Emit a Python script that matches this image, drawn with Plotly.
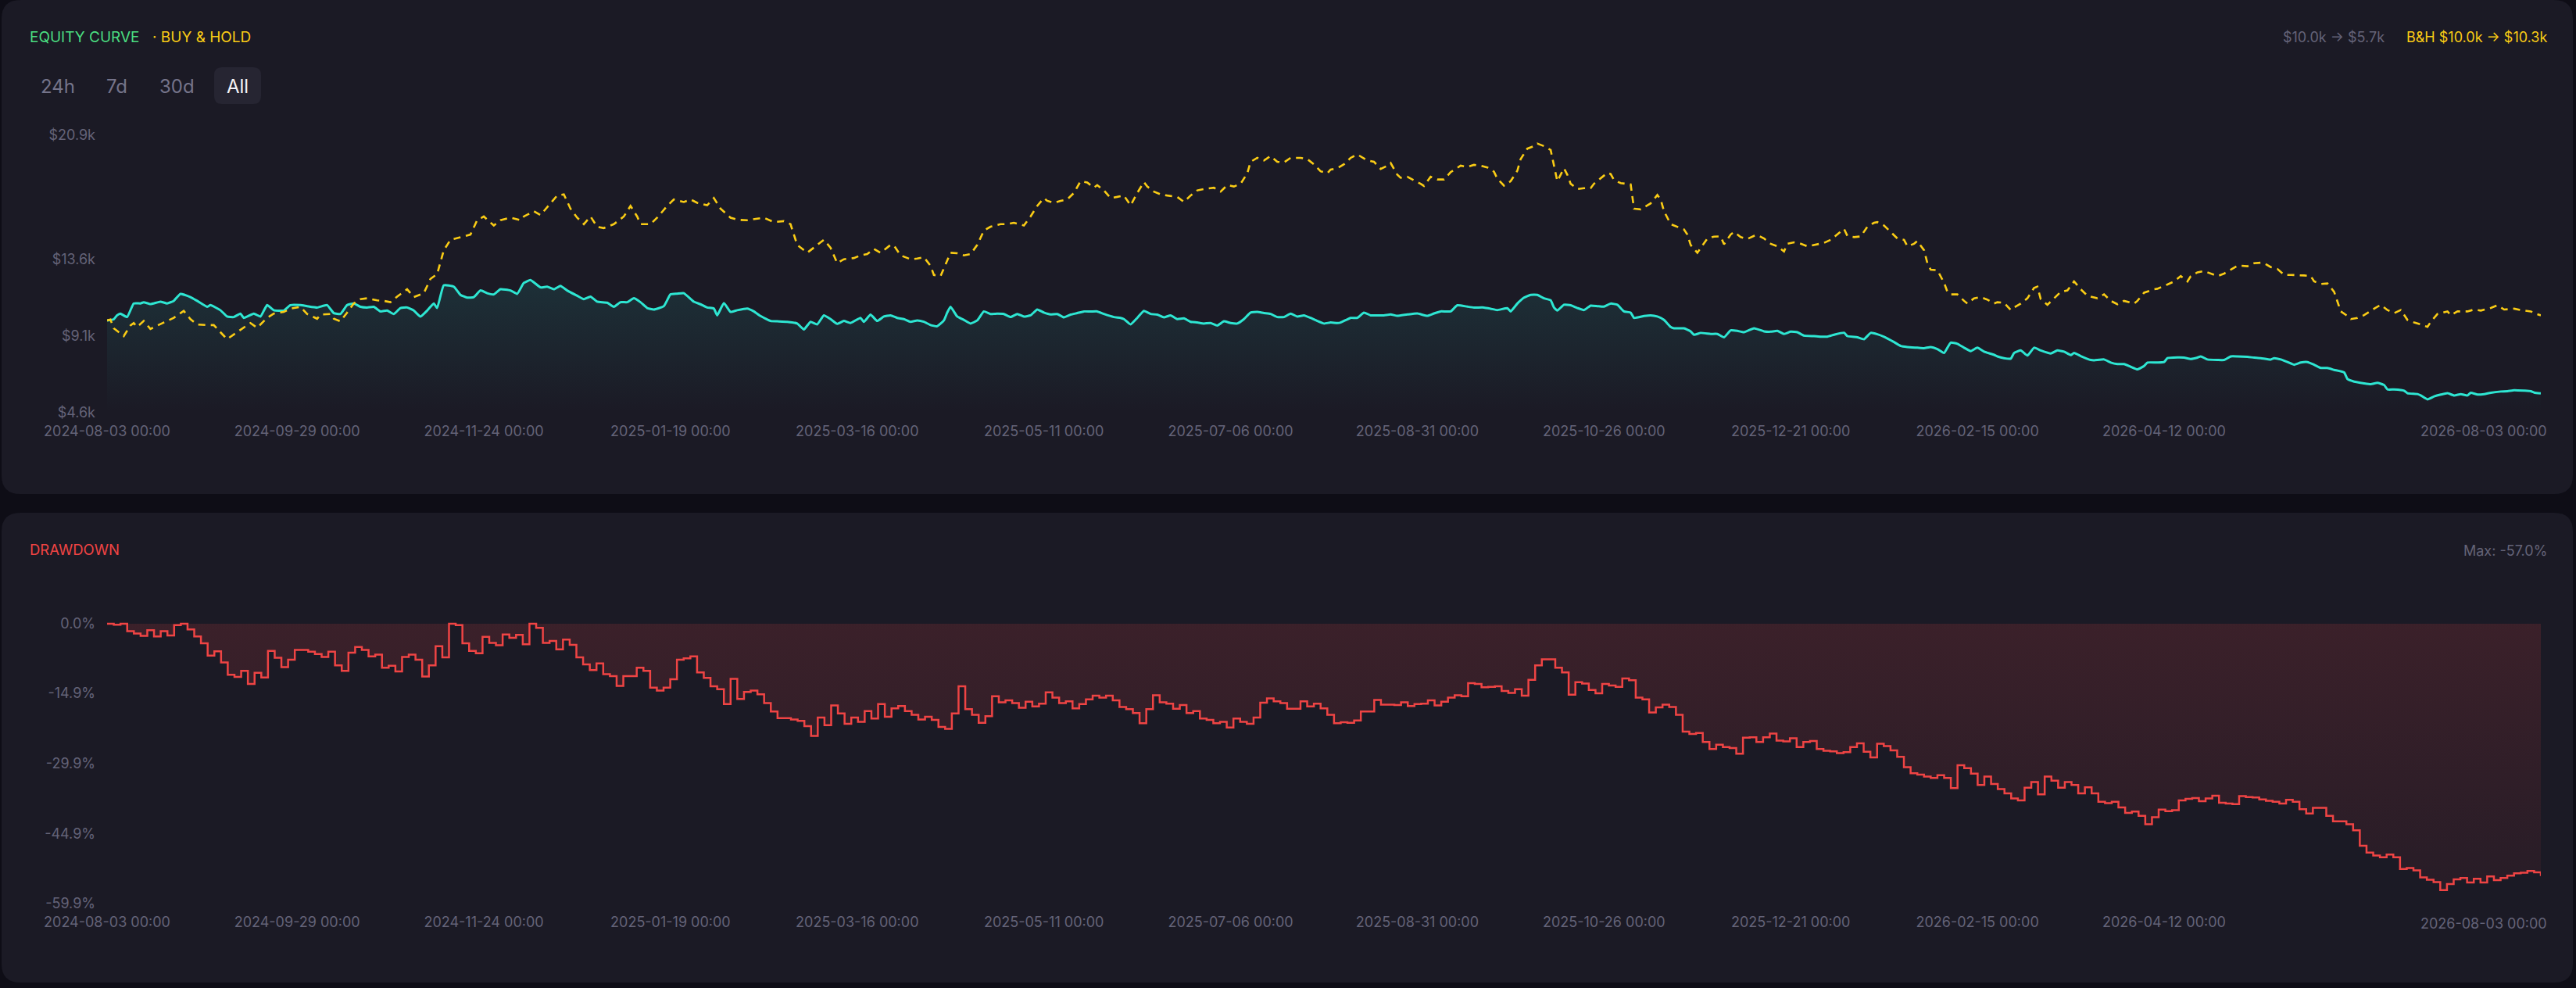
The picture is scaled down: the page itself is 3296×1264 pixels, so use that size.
import pandas as pd
import plotly.graph_objects as go

# ---------------- data ----------------
START = "2024-08-03"
END = "2026-08-03"

EQ_DAYS = [0, 2, 3, 4, 6, 8, 10, 11, 13, 16, 18, 20, 22, 25, 27, 30, 31, 34, 36, 38, 40, 41, 44, 46, 48, 50, 53, 55,
           58, 60, 63, 66, 68, 70, 72, 74, 76, 78, 80, 82, 84, 86, 88, 90, 92, 94, 96, 98, 99, 101, 104, 106, 108, 110,
           112, 114, 116, 118, 121, 123, 125, 127, 130, 132, 134, 136, 138, 141, 143, 145, 147, 150, 152, 154, 156,
           158, 160, 162, 164, 167, 169, 171, 173, 176, 178, 180, 182, 183, 185, 187, 189, 192, 194, 196, 199, 201,
           204, 207, 209, 211, 213, 215, 217, 219, 221, 223, 226,
           227, 229, 231, 233, 235, 237, 239, 241, 243, 245, 247, 249, 251, 252, 253, 255, 257, 259, 261, 263, 265,
           267, 269, 271, 273, 275, 277, 279, 281, 283, 285, 287, 289, 291, 293, 295, 297, 299, 302, 304, 305, 307,
           309, 311, 313, 315, 317, 319, 321, 323, 325, 327, 329, 331, 333, 335, 337, 339, 341, 343, 345, 347, 349,
           351, 353, 355, 357, 359, 361, 363, 365, 367, 369, 370, 373, 375, 377, 379, 381, 383, 385, 387, 390,
           393, 396, 398, 400, 403, 405, 408, 410, 413, 415, 417, 420, 421, 423, 425, 427, 429, 431, 433, 434, 435,
           437, 439, 441, 443, 445, 447, 449, 451, 453, 455, 457, 458, 461, 463, 465, 467, 469, 470, 473, 475, 476,
           478, 481, 483, 485, 487, 489, 491, 494, 497, 499, 501, 503, 505, 507, 509, 512, 514, 516, 518, 521, 522,
           525, 527, 529, 531, 533, 536, 538, 540, 543, 545, 547, 549, 551, 553, 555, 557, 559, 561, 563, 566,
           567, 569, 571, 572, 574, 576, 578, 580, 583, 585, 587, 589, 590, 592, 595, 596, 599, 601, 603, 605, 607,
           609, 611, 612, 615, 617, 618, 621, 623, 625, 627, 628, 630, 633, 635, 637, 639, 642, 644, 646, 649, 650,
           652, 654, 656, 658, 660, 662, 664, 666, 668, 671, 672, 674, 677, 679, 681, 683, 684, 686, 689, 690, 693,
           694, 696, 698, 700, 702, 704, 706, 708, 709, 711, 713, 715, 718, 720, 722, 725, 727, 728, 730]
EQ_VALUES = [10.0, 10.07, 10.3, 10.4, 10.2, 11.0, 11.0, 11.07, 10.96, 11.1, 11.0, 11.15, 11.56, 11.37, 11.15, 10.8,
             10.9, 10.6, 10.23, 10.2, 10.4, 10.15, 10.4, 10.23, 10.9, 10.6, 10.58, 10.9, 10.9, 10.84, 10.76, 10.9,
             10.43, 10.38, 10.9, 11.0, 10.8, 10.76, 10.8, 10.53, 10.58, 10.38, 10.73, 10.76, 10.58, 10.23, 10.58,
             11.0, 10.73, 12.06, 11.98, 11.5, 11.34, 11.37, 11.76, 11.6, 11.53, 11.83, 11.76, 11.56, 12.2, 12.37,
             11.94, 11.98, 11.83, 12.03, 11.76, 11.45, 11.25, 11.4, 11.1, 11.04, 10.8, 11.07, 11.07, 11.3, 11.07,
             10.73, 10.64, 10.84, 11.53, 11.57, 11.6, 11.1, 10.95, 10.76, 10.7, 10.3, 11.02, 10.5, 10.6, 10.7, 10.53,
             10.26, 9.97, 9.95, 9.92, 9.82, 9.47, 9.92, 9.77, 10.3, 10.08, 9.8, 9.97, 9.85, 10.15,
             9.92, 10.34, 9.97, 10.23, 10.3, 10.15, 10.08, 9.92, 10.0, 9.92, 9.73, 9.66, 10.0, 10.46, 10.8, 10.23,
             10.03, 9.82, 10.0, 10.53, 10.38, 10.4, 10.38, 10.2, 10.38, 10.23, 10.3, 10.64, 10.46, 10.35, 10.38,
             10.18, 10.34, 10.43, 10.53, 10.52, 10.53, 10.38, 10.2, 10.15, 10.08, 9.77, 10.15, 10.56, 10.38, 10.34,
             10.18, 10.3, 10.08, 10.12, 9.92, 9.88, 9.82, 9.85, 9.7, 9.95, 9.85, 9.82, 10.08, 10.46, 10.5, 10.43,
             10.38, 10.2, 10.2, 10.4, 10.23, 10.3, 10.15, 9.97, 9.82, 9.88, 9.85, 9.88, 10.15, 10.15, 10.46, 10.3,
             10.3, 10.3, 10.35, 10.27, 10.35,
             10.41, 10.27, 10.41, 10.53, 10.53, 10.89, 10.81, 10.76, 10.76, 10.69, 10.61, 10.72, 10.53, 10.99, 11.34,
             11.5, 11.5, 11.3, 11.18, 10.76, 10.58, 10.92, 10.89, 10.73, 10.61, 10.87, 10.84, 10.81, 10.99, 10.92,
             10.53, 10.46, 10.15, 10.26, 10.3, 10.23, 10.03, 9.62, 9.54, 9.54, 9.36, 9.16, 9.27, 9.21, 9.21, 9.01,
             9.42, 9.39, 9.31, 9.54, 9.36, 9.34, 9.39, 9.21, 9.34, 9.31, 9.11, 9.08, 9.05, 9.05, 9.16, 9.28, 9.08,
             9.01, 8.9, 9.27, 9.19, 9.04, 8.73, 8.5, 8.44, 8.4, 8.37, 8.44, 8.32, 8.09, 8.7, 8.63, 8.4, 8.2, 8.4,
             8.17, 7.98,
             7.89, 7.79, 7.76, 8.09, 8.24, 7.94, 8.4, 8.24, 8.06, 8.24, 8.17, 7.97, 8.09, 7.91, 7.68, 7.66, 7.71,
             7.53, 7.44, 7.44, 7.28, 7.13, 7.33, 7.53, 7.53, 7.56, 7.79, 7.83, 7.82, 7.74, 7.82, 7.89, 7.71, 7.68,
             7.68, 7.89, 7.89, 7.86, 7.82, 7.79, 7.71, 7.79, 7.71, 7.56, 7.4, 7.53, 7.56, 7.4, 7.21, 7.21, 7.1, 6.95,
             6.56, 6.41, 6.31, 6.26, 6.34, 6.21, 5.95, 5.95, 5.88, 5.73, 5.68, 5.6, 5.37, 5.54, 5.65, 5.73, 5.6,
             5.68, 5.6, 5.76, 5.65, 5.68, 5.76, 5.83, 5.85, 5.91, 5.88, 5.85, 5.77, 5.72]

BH_DAYS = [0, 1, 2, 5, 7, 8, 9, 11, 13, 15, 17, 20, 23, 25, 27, 30, 32, 34, 36, 39, 41, 43, 45, 48, 50, 53, 55, 58,
           60, 63, 64, 67, 68, 70, 72, 74, 76, 78, 81, 83, 85, 87, 90, 92, 95, 97, 99, 101, 103, 106, 109, 111, 113,
           116, 118, 121, 124, 125, 128, 130, 132, 135, 137, 139, 141, 143, 145, 147, 149, 152, 155, 157, 159, 160,
           163, 165, 168, 170, 173, 175, 177, 180, 182, 184, 187, 189, 192, 194, 197, 200, 203, 205, 207, 210, 212,
           215, 217, 219, 221, 224, 226,
           228, 230, 232, 235, 236, 238, 241, 243, 245, 247, 248, 250, 251, 253, 255, 257, 259, 261, 263, 265, 268,
           270, 272, 275, 277, 279, 281, 282, 284, 286, 288, 290, 292, 294, 296, 297, 299, 301, 303, 305, 307, 309,
           311, 312, 314, 316, 318, 321, 323, 325, 327, 329, 332, 334, 336, 338, 340, 342, 343, 345, 347, 349, 351,
           353, 355, 357, 358, 360, 362, 364, 366, 367, 369, 371, 373, 375, 376, 378, 380, 382, 384, 385, 387, 388,
           390,
           392, 394, 395, 397, 399, 401, 403, 406, 408, 410, 412, 414, 416, 417, 419, 421, 423, 424, 426, 428, 429,
           431, 433, 434, 435, 437, 438, 439, 441, 443, 445, 446, 448, 450, 451, 452, 454, 456, 457, 458, 460, 461,
           463, 465, 466, 467, 469, 470, 473, 474, 475, 477, 478, 480, 482, 484, 485, 487, 488, 490, 492, 494, 495,
           497, 499, 501, 503, 504, 506, 508, 510, 512, 513, 515, 517, 519, 521, 522, 524, 526, 528, 530, 531, 533,
           535, 537, 539, 540, 542, 543, 545, 546, 547, 549, 551, 552, 553, 555, 557, 558, 560, 562, 564, 566,
           567, 569, 571, 572, 574, 576, 578, 579, 580, 582, 584, 586, 588, 590, 592, 594, 597, 599, 601, 603, 605,
           608, 609, 611, 614, 615, 618, 620, 622, 624, 625, 627, 629, 631, 633, 635, 637, 639, 640, 642, 644, 646,
           647, 649, 651, 653, 655, 657, 659, 661, 662, 664, 666, 668, 669, 670, 672, 673, 675, 677, 680, 682, 684,
           686, 688, 690, 692, 694, 696, 697, 699, 702, 703, 705, 708, 710, 712, 715, 717, 719, 722, 724, 727, 728,
           730]
BH_VALUES = [10.0, 10.05, 9.54, 9.08, 9.7, 9.85, 9.62, 9.97, 9.5, 9.7, 9.88, 10.15, 10.56, 10.08, 9.76, 9.73, 9.73,
             9.31, 8.9, 9.31, 9.59, 9.85, 9.57, 10.15, 10.4, 10.5, 10.69, 10.8, 10.38, 10.1, 10.34, 10.38, 10.1,
             9.95, 10.46, 11.0, 11.25, 11.3, 11.18, 11.15, 11.07, 11.4, 11.83, 11.37, 11.6, 12.44, 12.72, 14.12,
             14.73, 14.89, 15.04, 15.88, 16.1, 15.57, 15.88, 16.03, 15.88, 16.1, 16.41, 16.18, 16.64, 17.33, 17.4,
             16.56, 16.03, 15.65, 16.1, 15.5, 15.42, 15.65, 16.1, 16.72, 16.1, 15.65, 15.65, 16.03, 16.72, 17.1,
             16.95, 17.1, 16.9, 16.76, 17.18, 16.56, 16.03, 15.91, 15.88, 15.95, 16.03, 15.77, 15.83, 15.65, 14.43,
             13.97, 14.27, 14.73, 14.27, 13.36, 13.59, 13.66, 13.82,
             13.89, 14.2, 13.97, 14.43, 14.4, 13.82, 13.59, 13.63, 13.71, 13.21, 12.67, 12.6, 13.05, 13.97, 13.94,
             13.82, 13.89, 14.43, 15.27, 15.5, 15.65, 15.65, 15.73, 15.57, 16.1, 16.72, 17.18, 17.02, 16.9, 17.02,
             17.1, 17.48, 18.17, 18.09, 17.79, 17.94, 17.63, 17.18, 17.25, 17.33, 16.75, 17.48, 18.12, 17.86, 17.56,
             17.4, 17.33, 17.25, 16.95, 17.33, 17.63, 17.71, 17.79, 17.56, 17.94, 17.86, 18.02, 18.63, 19.31, 19.54,
             19.39, 19.65, 19.31, 19.27, 19.54, 19.54, 19.54, 19.47, 19.16, 18.75, 18.63, 18.85, 18.93, 19.16, 19.54,
             19.74, 19.62, 19.39, 19.31, 18.89, 19.08, 19.24, 18.55, 18.37, 18.43,
             18.24, 18.02, 17.89, 18.43, 18.27, 18.27, 18.7, 19.08, 19.01, 19.13, 19.08, 18.98, 18.73, 18.32, 17.91,
             18.17, 18.78, 19.47, 20.08, 20.23, 20.38, 20.23, 20.0, 19.01, 18.17, 18.93, 18.55, 18.02, 17.71, 17.76,
             17.76, 18.02, 18.32, 18.66, 18.59, 18.24, 18.06, 18.02, 17.98, 16.56, 16.52, 16.64, 16.87, 17.36, 17.1,
             16.41, 15.65, 15.57, 15.34, 15.04, 14.43, 13.97, 14.27, 14.81, 14.92, 14.93, 14.47, 15.04, 15.19, 14.89,
             14.78, 14.96, 15.01, 14.81, 14.5, 14.35, 14.05, 14.5, 14.58, 14.5, 14.35, 14.43, 14.47, 14.55, 14.73,
             15.07, 15.37, 14.96, 14.89, 14.93, 15.5, 15.73, 15.77, 15.57, 15.19, 14.81, 14.73, 14.35, 14.5, 14.66,
             14.12, 13.36, 12.98, 12.95, 12.21, 11.68, 11.53, 11.53, 11.15, 10.99, 11.3, 11.37, 11.22, 10.99,
             11.07, 11.04, 10.61, 10.76, 10.99, 11.3, 11.91, 11.98, 11.25, 10.92, 11.3, 11.68, 11.76, 12.29, 11.83,
             11.45, 11.3, 11.53, 11.15, 10.95, 11.15, 10.99, 11.15, 11.63, 11.83, 11.86, 12.11, 12.29, 12.6, 12.29,
             12.6, 12.82, 12.9, 12.75, 12.6, 12.75, 12.98, 13.21, 13.21, 13.18, 13.36, 13.39, 13.36, 13.13, 13.02,
             12.67, 12.67, 12.67, 12.64, 12.6, 12.29, 12.14, 12.17, 11.68, 11.07, 10.53, 10.26, 10.08, 10.15, 10.31,
             10.69, 10.92, 10.61, 10.43, 10.61, 10.03, 9.88, 9.77, 9.62, 9.92, 10.38, 10.53, 10.31, 10.53, 10.53,
             10.64, 10.58, 10.73, 10.89, 10.64, 10.69, 10.61, 10.53, 10.43, 10.3]

DD_VALUES = [
    0.0, -0.2, 0.0, -1.6, -2.1, -2.6, -1.4, -2.7, -1.6, -2.5, -0.3, 0.0, -1.2, -2.7, -4.2, -6.8, -5.9, -8.3, -10.9,
    -11.4, -10.1, -12.9, -10.5, -11.5, -5.8, -7.3, -9.3, -7.7, -5.6, -5.6, -6.0, -6.5, -7.1, -6.0, -8.9, -10.1,
    -6.2, -5.0, -5.6, -7.0, -6.6, -9.4, -9.0, -10.2, -7.1, -6.6, -7.7, -11.3, -8.9, -4.8, -7.2, 0.0, -0.3, -4.2,
    -5.8, -6.3, -2.8, -4.1, -4.6, -2.3, -3.0, -2.4, -4.4, 0.0, -0.9, -4.1, -3.7, -5.5, -3.4, -4.5, -7.2, -8.7,
    -9.9, -8.5, -10.8, -11.2, -13.3, -11.2, -11.2, -9.4, -10.1, -13.7, -14.3, -13.7, -11.9, -7.7, -7.4, -7.0,
    -10.4, -11.6,
    -13.4, -14.0, -17.2, -11.8, -16.1, -14.6, -14.3, -15.1, -17.0, -18.8, -20.2, -20.2, -20.5, -20.8, -21.9,
    -24.0, -20.1, -21.7, -17.5, -19.2, -21.4, -20.1, -21.0, -18.7, -20.3, -17.2, -19.9, -18.1, -17.6, -18.7,
    -19.5, -20.5, -19.9, -20.6, -22.1, -22.5, -19.2, -13.4, -18.3, -19.5, -21.2, -19.8, -15.5, -16.8, -16.4,
    -17.0, -18.0, -16.7, -17.7, -17.1, -14.7, -15.8, -17.0, -16.6, -18.1, -17.2, -16.2, -15.4, -15.8, -15.4,
    -16.4, -17.8, -18.3, -19.1, -21.3, -18.3, -15.3, -16.8, -17.1, -18.2, -17.4, -19.1, -18.7, -20.3, -20.6,
    -21.3, -21.0, -22.2, -20.3, -21.0, -21.4, -20.1, -16.9, -16.0, -16.6, -17.0, -18.2, -18.2, -16.6, -17.7,
    -17.1,
    -18.1, -19.5, -21.3, -21.1, -21.2, -20.7, -18.8, -18.8, -16.3, -17.3, -17.3, -17.4, -16.8, -17.6, -17.2,
    -17.1, -16.4, -17.5, -16.7, -15.8, -15.3, -15.5, -12.7, -12.9, -13.6, -13.5, -13.4, -14.4, -14.8, -14.0,
    -15.4, -12.0, -8.9, -7.6, -7.6, -9.4, -10.4, -15.2, -12.5, -12.8, -14.2, -14.9, -12.9, -13.2, -13.5, -11.7,
    -12.1, -15.8, -16.2, -19.0, -17.9, -17.3, -17.8, -19.5, -23.1, -23.6, -23.4, -25.3, -26.8, -25.9, -26.4,
    -26.6, -27.8, -24.4, -24.3, -25.3, -24.3, -23.5, -25.0, -25.2, -24.5, -26.4, -25.3, -25.1, -26.8, -27.2,
    -27.3, -27.7, -27.5, -26.4, -25.6, -27.4, -28.6, -25.7, -26.2, -27.1, -28.5, -30.7, -32.0, -32.3, -32.7,
    -33.0, -32.4, -33.0, -35.2,
    -30.3, -30.9, -32.1, -34.5, -32.7, -34.3, -35.4, -36.3, -37.4, -37.8, -35.1, -33.9, -36.5, -32.7, -33.6,
    -35.1, -33.9, -34.5, -36.3, -35.0, -36.3, -38.1, -38.4, -38.1, -39.3, -40.5, -40.2, -41.1, -42.9, -41.4,
    -39.8, -40.1, -39.9, -37.8, -37.5, -37.3, -38.0, -37.4, -36.8, -38.3, -38.5, -38.6, -36.9, -37.1, -37.2,
    -37.6, -37.9, -38.1, -38.5, -37.7, -38.1, -39.7, -40.6, -39.4, -39.4, -41.1, -42.3, -42.3, -42.9, -44.2,
    -47.5, -49.0, -49.6, -50.0, -49.4, -50.0, -52.5, -52.3, -52.8, -54.3, -54.8, -55.3, -57.0, -55.7, -54.7,
    -54.4, -55.4, -54.6, -55.4, -54.1, -54.9, -54.4, -53.9, -53.4, -53.3, -52.9, -53.2, -54.0]

X_TICK_DATES = ["2024-08-03", "2024-09-29", "2024-11-24", "2025-01-19", "2025-03-16", "2025-05-11",
                "2025-07-06", "2025-08-31", "2025-10-26", "2025-12-21", "2026-02-15", "2026-04-12"]
X_LAST_LABEL = "2026-08-03 00:00"
EQ_TICKS = [4.6, 9.1, 13.6, 20.9]
EQ_TICK_TEXT = ["$4.6k", "$9.1k", "$13.6k", "$20.9k"]
DD_TICKS = [0.0, -14.9, -29.9, -44.9, -59.9]
DD_TICK_TEXT = ["0.0%", "-14.9%", "-29.9%", "-44.9%", "-59.9%"]
RANGE_BUTTONS = ["24h", "7d", "30d", "All"]

# ---------------- style ----------------
W, H = 3296, 1264
PAGE_BG = "#0e0d16"
CARD_BG = "#1b1a25"
BTN_BG = "#262532"
MUTED = "#646378"
FONT = "Inter"
EQ_COLOR = "#2ee6d2"
BH_COLOR = "#facc15"
DD_COLOR = "#ef4444"
TITLE_GREEN = "#4ade80"


def px(x):
    return x / W


def py(y):
    return 1 - y / H


def rounded_rect(x0, y0, x1, y1, r):
    rx, ry = r / W, r / H
    X0, X1, Y0, Y1 = px(x0), px(x1), py(y0), py(y1)  # Y0 top, Y1 bottom
    return (f"M {X0 + rx} {Y0} L {X1 - rx} {Y0} Q {X1} {Y0} {X1} {Y0 - ry} "
            f"L {X1} {Y1 + ry} Q {X1} {Y1} {X1 - rx} {Y1} "
            f"L {X0 + rx} {Y1} Q {X0} {Y1} {X0} {Y1 + ry} "
            f"L {X0} {Y0 - ry} Q {X0} {Y0} {X0 + rx} {Y0} Z")


start = pd.Timestamp(START)
end = pd.Timestamp(END)
eq_dates = start + pd.to_timedelta(EQ_DAYS, unit="D")
bh_dates = start + pd.to_timedelta(BH_DAYS, unit="D")
dd_dates = pd.date_range(start, end, periods=len(DD_VALUES))

fig = go.Figure()

fig.add_trace(go.Scatter(
    x=eq_dates, y=EQ_VALUES, mode="lines", name="Equity",
    line=dict(color=EQ_COLOR, width=3, shape="spline", smoothing=0.4),
    fill="tozeroy",
    fillgradient=dict(type="vertical",
                      colorscale=[[0, "rgba(46,230,210,0.0)"], [1, "rgba(46,230,210,0.11)"]],
                      start=4.6, stop=12.4),
    xaxis="x", yaxis="y", hoverinfo="skip"))

fig.add_trace(go.Scatter(
    x=bh_dates, y=BH_VALUES, mode="lines", name="Buy & Hold",
    line=dict(color=BH_COLOR, width=2.6, dash="9px,7px"),
    xaxis="x", yaxis="y", hoverinfo="skip"))

fig.add_trace(go.Scatter(
    x=dd_dates, y=DD_VALUES, mode="lines", name="Drawdown",
    line=dict(color=DD_COLOR, width=2.5, shape="hv"),
    fill="tozeroy",
    fillgradient=dict(type="vertical",
                      colorscale=[[0, "rgba(239,68,68,0.055)"], [1, "rgba(239,68,68,0.15)"]],
                      start=-59.9, stop=0),
    xaxis="x2", yaxis="y2", hoverinfo="skip"))

tickfont = dict(family=FONT, size=18, color=MUTED)
x_tick_text = [d + " 00:00" for d in X_TICK_DATES]
xdom = [px(137), px(3251)]

common_x = dict(type="date", range=[start, end], tickvals=X_TICK_DATES, ticktext=x_tick_text,
                showgrid=False, zeroline=False, showline=False, ticks="", tickfont=tickfont,
                ticklabelstandoff=11, domain=xdom, fixedrange=True, automargin=False)
common_y = dict(showgrid=False, zeroline=False, showline=False, ticks="", tickfont=tickfont,
                ticklabelstandoff=14, fixedrange=True, automargin=False)

shapes = [
    dict(type="path", xref="paper", yref="paper", path=rounded_rect(2, 0, 3292, 632, 24),
         fillcolor=CARD_BG, line=dict(width=0), layer="below"),
    dict(type="path", xref="paper", yref="paper", path=rounded_rect(2, 656, 3292, 1257, 24),
         fillcolor=CARD_BG, line=dict(width=0), layer="below"),
    dict(type="path", xref="paper", yref="paper", path=rounded_rect(274, 86, 334, 133, 10),
         fillcolor=BTN_BG, line=dict(width=0), layer="below"),
]

annotations = []


def label(text, x, y, color, size=18, anchor="left"):
    annotations.append(dict(text=text, x=px(x), y=py(y), xref="paper", yref="paper", showarrow=False,
                            xanchor=anchor, yanchor="middle", font=dict(family=FONT, size=size, color=color)))


label("EQUITY CURVE", 36, 48, TITLE_GREEN, 19)
label("· BUY & HOLD", 193, 48, BH_COLOR, 19)
label("B&H $10.0k → $10.3k", 3261, 48, BH_COLOR, 18, "right")
label("$10.0k → $5.7k", 3053, 48, MUTED, 18, "right")
btn_centers = [73.5, 149.5, 226.5, 303.5]
for t, cx in zip(RANGE_BUTTONS, btn_centers):
    label(t, cx, 110, "#f3f3f7" if t == "All" else "#75748a", 24, "center")
label("DRAWDOWN", 36, 703, DD_COLOR, 18.5)
label("Max: -57.0%", 3261, 704, MUTED, 18, "right")
label(X_LAST_LABEL, 3261, 551, MUTED, 18, "right")
label(X_LAST_LABEL, 3261, 1181, MUTED, 18, "right")

fig.update_layout(
    width=W, height=H, margin=dict(l=0, r=0, t=0, b=0, pad=0, autoexpand=False), autosize=False,
    paper_bgcolor=PAGE_BG, plot_bgcolor="rgba(0,0,0,0)",
    showlegend=False, hovermode=False,
    font=dict(family=FONT, color=MUTED),
    xaxis=dict(common_x, anchor="y"),
    yaxis=dict(common_y, domain=[py(527.7), py(172.3)], range=[4.6, 20.9],
               tickvals=EQ_TICKS, ticktext=EQ_TICK_TEXT, anchor="x"),
    xaxis2=dict(common_x, anchor="y2"),
    yaxis2=dict(common_y, domain=[py(1156), py(795)], range=[-59.9, 0.5],
                tickvals=DD_TICKS, ticktext=DD_TICK_TEXT, anchor="x2"),
    shapes=shapes, annotations=annotations,
)

PAGE_JS = ("var s=document.createElement('style');"
           "s.innerHTML='html,body{margin:0;padding:0;overflow:hidden;background:%s;}';"
           "document.head.appendChild(s);"
           "document.body.style.margin='0';window.scrollTo(0,0);") % PAGE_BG

fig.write_html("out.html", config={"displayModeBar": False, "staticPlot": True}, post_script=PAGE_JS)
